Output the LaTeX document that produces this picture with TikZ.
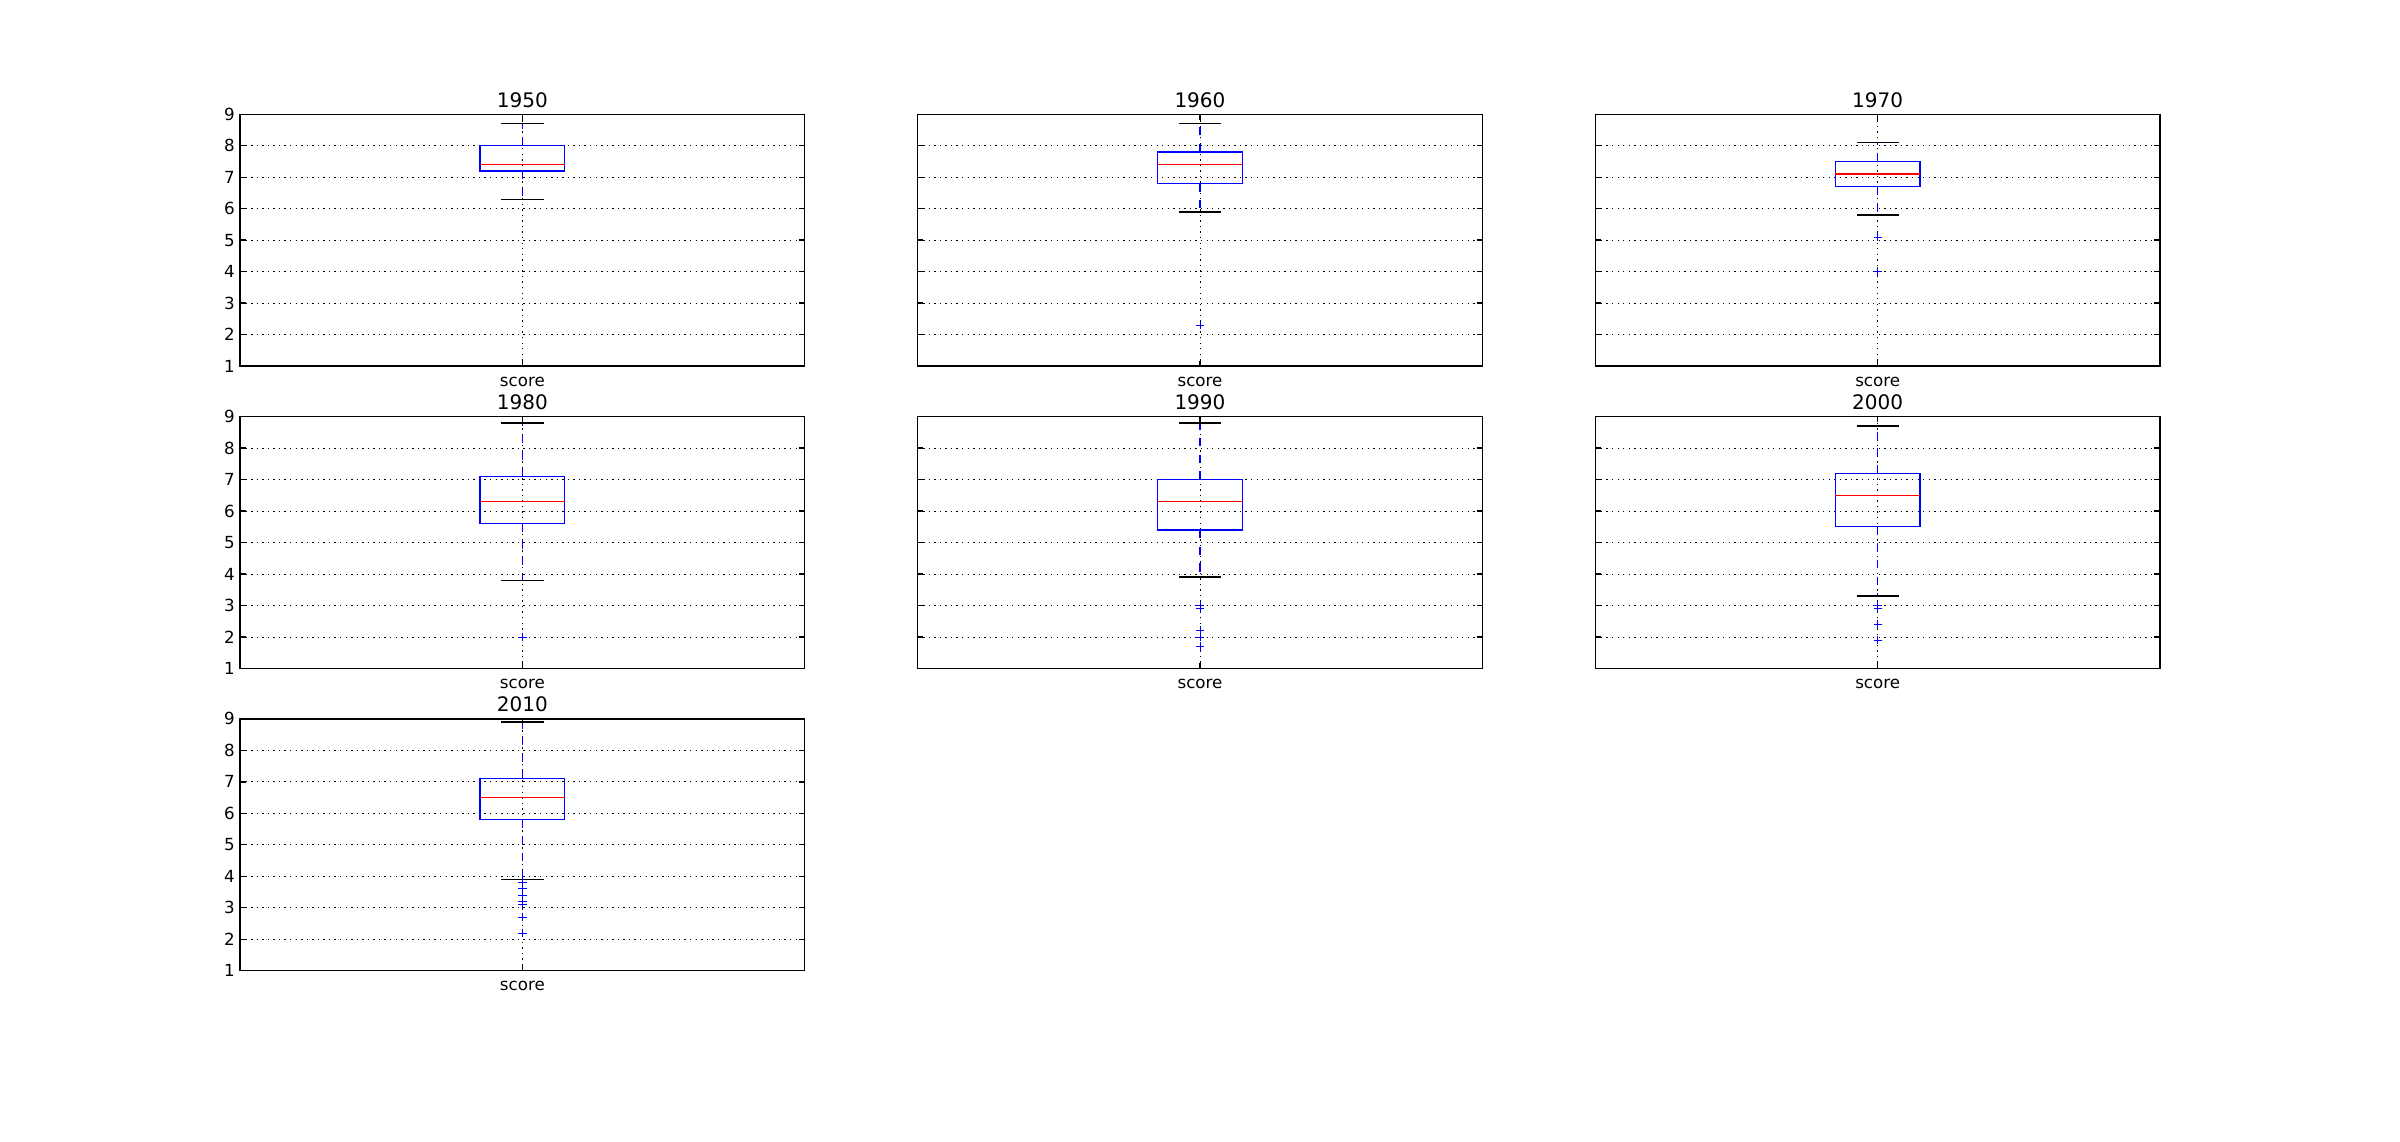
\documentclass[tikz,border=0pt]{standalone}
\usepackage{fontspec}
\setmainfont{DejaVu Sans}
\begin{document}
\begin{tikzpicture}[x=0.72pt, y=-0.72pt, font=\fontsize{12}{14}\selectfont]
\tikzstyle{axframe} = [draw=black, line width=1pt]
\tikzstyle{gridline} = [black, line width=0.5pt, dash pattern=on 1pt off 3pt]
\tikzstyle{tickmark} = [black, line width=1pt]
\tikzstyle{boxline} = [draw=blue, line width=1pt]
\tikzstyle{median} = [red, line width=1pt]
\tikzstyle{whisker} = [blue, line width=1pt, dash pattern=on 6pt off 6pt]
\tikzstyle{capline} = [black, line width=1pt]
\tikzstyle{flier} = [blue, line width=0.6pt]
\tikzstyle{title} = [font=\fontsize{14.4}{17}\selectfont, anchor=base, inner sep=0pt]
\tikzstyle{ylab} = [anchor=east, inner sep=0pt]
\tikzstyle{xlab} = [anchor=base, inner sep=0pt]

\useasboundingbox (0,0) rectangle (2400,1142);
\fill[white] (0,0) rectangle (2400,1142);

\foreach \yr/\px/\py in {1950/240/397.6, 1960/917.6/397.6, 1970/1595.3/397.6,
    1980/240/699.9, 1990/917.6/699.9, 2000/1595.3/699.9, 2010/240/1002.2}{
  \begin{scope}[shift={(\px,\py)}, x=406.6pt, y=22.67pt]
    \foreach \v in {2,...,8} \draw[gridline] (0,\v) -- (1,\v);
    \draw[gridline] (0.5,1) -- (0.5,9);
    \foreach \v in {1,...,9} \draw[tickmark] (0,\v) -- ++(4pt,0) (1,\v) -- ++(-4pt,0);
    \draw[tickmark] (0.5,1) -- ++(0,4pt) (0.5,9) -- ++(0,-4pt);
    \draw[axframe] (0,1) rectangle (1,9);
    \node[title, yshift=5pt] (t\yr) at (0.5,9) {\yr};
    \node[xlab, yshift=-14.4pt] (s\yr) at (0.5,1) {score};
  \end{scope}
}

\foreach \r/\py in {1/397.6, 2/699.9, 3/1002.2}{
  \begin{scope}[shift={(240,\py)}, y=22.67pt]
    \foreach \v in {1,...,9} \node[ylab, xshift=-3.6pt] (y\r\v) at (0,\v) {\v};
  \end{scope}
}

\foreach \px/\py/\lo/\qa/\me/\qb/\hi in {240/397.6/6.3/7.2/7.4/8.0/8.7,
    917.6/397.6/5.9/6.8/7.4/7.8/8.7, 1595.3/397.6/5.8/6.7/7.1/7.5/8.1,
    240/699.9/3.8/5.6/6.3/7.1/8.8, 917.6/699.9/3.9/5.4/6.3/7.0/8.8,
    1595.3/699.9/3.3/5.5/6.5/7.2/8.7, 240/1002.2/3.9/5.8/6.5/7.1/8.9}{
  \begin{scope}[shift={(\px,\py)}, x=406.6pt, y=22.67pt]
    \draw[whisker] (0.5,\qa) -- (0.5,\lo);
    \draw[whisker] (0.5,\qb) -- (0.5,\hi);
    \draw[boxline] (0.425,\qa) rectangle (0.575,\qb);
    \draw[median] (0.425,\me) -- (0.575,\me);
    \draw[capline] (0.4625,\lo) -- (0.5375,\lo) (0.4625,\hi) -- (0.5375,\hi);
  \end{scope}
}

\foreach \px/\py/\fl in {917.6/397.6/{2.3}, 1595.3/397.6/{5.1,4.0},
    240/699.9/{2.0}, 917.6/699.9/{3.0,2.9,2.2,2.0,1.7},
    1595.3/699.9/{3.0,2.9,2.4,1.9}, 240/1002.2/{3.8,3.6,3.4,3.2,3.1,2.7,2.2}}{
  \begin{scope}[shift={(\px,\py)}, x=406.6pt, y=22.67pt]
    \foreach \o in \fl
      \draw[flier] (0.5,\o) ++(-3pt,0) -- ++(6pt,0) (0.5,\o) ++(0,-3pt) -- ++(0,6pt);
  \end{scope}
}
\end{tikzpicture}
\end{document}
